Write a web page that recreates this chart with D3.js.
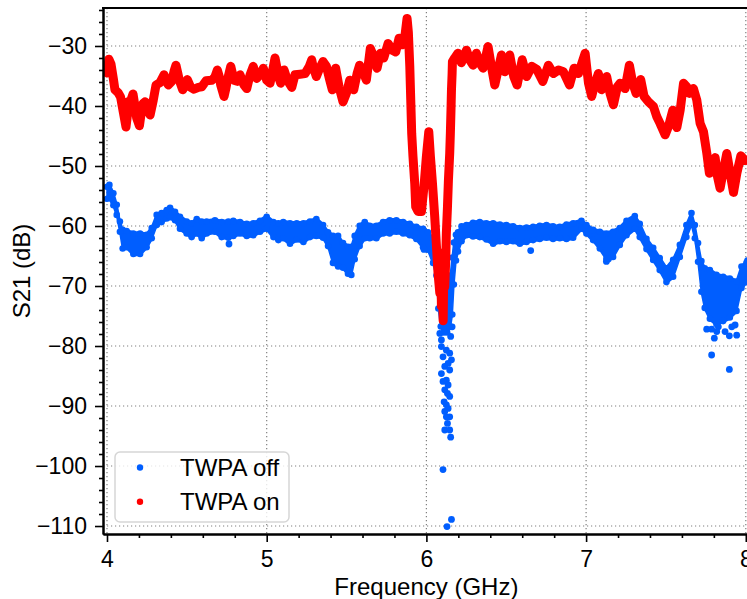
<!DOCTYPE html>
<html>
<head>
<meta charset="utf-8">
<script src="https://cdn.jsdelivr.net/npm/d3@7"></script>
<style>
  html, body { margin: 0; padding: 0; background: #fff; }
  svg { display: block; font-family: "Liberation Sans", Arial, sans-serif; }
</style>
</head>
<body>
<div id="chart"></div>
<script>
// S21 vs frequency, TWPA off / on.

// ---- TWPA on (red): centre of the trace, GHz / dB
const onFreq = [
  4.000, 4.012, 4.025, 4.040, 4.050, 4.070, 4.085, 4.102, 4.119, 4.128, 4.132, 4.140, 4.150, 4.163, 4.175, 4.186,
  4.203, 4.215, 4.225, 4.238, 4.255, 4.270, 4.290, 4.307, 4.332, 4.357, 4.370, 4.384, 4.405, 4.420, 4.432, 4.443,
  4.453, 4.474, 4.490, 4.503, 4.524, 4.545, 4.572, 4.593, 4.620, 4.656, 4.675, 4.691, 4.702, 4.712, 4.733, 4.745,
  4.754, 4.775, 4.795, 4.816, 4.833, 4.858, 4.875, 4.896, 4.916, 4.937, 4.958, 4.979, 5.000, 5.021, 5.042, 5.052,
  5.063, 5.073, 5.088, 5.109, 5.129, 5.157, 5.177, 5.209, 5.240, 5.267, 5.282, 5.290, 5.311, 5.332, 5.353, 5.374,
  5.395, 5.411, 5.432, 5.453, 5.478, 5.499, 5.520, 5.545, 5.566, 5.582, 5.603, 5.624, 5.649, 5.670, 5.691, 5.712,
  5.733, 5.760, 5.787, 5.808, 5.829, 5.850, 5.866, 5.879, 5.887, 5.896, 5.902, 5.908, 5.916, 5.927, 5.933, 5.948,
  5.969, 5.985, 6.000, 6.015, 6.025, 6.038, 6.052, 6.063, 6.073, 6.084, 6.090, 6.094, 6.100, 6.105, 6.110, 6.115,
  6.121, 6.125, 6.132, 6.138, 6.146, 6.150, 6.154, 6.157, 6.161, 6.163, 6.177, 6.198, 6.219, 6.251, 6.271, 6.292,
  6.313, 6.334, 6.355, 6.386, 6.407, 6.428, 6.449, 6.470, 6.491, 6.501, 6.522, 6.547, 6.568, 6.600, 6.628, 6.660,
  6.691, 6.729, 6.764, 6.795, 6.827, 6.858, 6.896, 6.925, 6.952, 6.973, 6.994, 7.015, 7.035, 7.056, 7.077, 7.098,
  7.129, 7.150, 7.171, 7.196, 7.213, 7.244, 7.271, 7.292, 7.313, 7.342, 7.363, 7.390, 7.422, 7.443, 7.463, 7.495,
  7.516, 7.543, 7.568, 7.589, 7.610, 7.630, 7.647, 7.672, 7.693, 7.714, 7.735, 7.756, 7.772, 7.793, 7.808, 7.823,
  7.839, 7.860, 7.881, 7.902, 7.923, 7.944, 7.969, 7.996, 8.010
];
const onS21 = [
  -34.5, -32.2, -33.0, -35.5, -37.3, -37.8, -38.5, -41.0, -43.5, -41.5, -39.3, -40.0, -39.0, -38.0, -40.0, -42.0,
  -43.3, -41.0, -39.6, -39.3, -40.8, -41.5, -39.0, -36.5, -36.1, -34.8, -35.8, -36.5, -35.9, -34.2, -33.2, -34.5,
  -35.7, -37.3, -36.5, -35.6, -36.9, -37.2, -36.9, -36.8, -35.8, -35.7, -35.2, -34.0, -35.0, -36.5, -38.4, -37.0,
  -35.7, -33.4, -35.7, -35.9, -34.8, -36.5, -37.1, -34.8, -33.4, -35.4, -34.8, -33.7, -35.7, -36.2, -33.4, -32.0,
  -33.5, -35.1, -36.2, -34.0, -35.7, -36.9, -34.8, -34.7, -34.6, -33.4, -32.3, -33.4, -35.1, -33.7, -32.6, -33.4,
  -35.7, -37.3, -33.7, -36.8, -39.3, -37.9, -35.7, -37.3, -34.6, -33.2, -34.3, -35.7, -30.4, -31.8, -33.7, -31.2,
  -32.0, -29.6, -30.7, -31.0, -28.7, -29.8, -28.2, -25.4, -27.7, -33.4, -39.0, -44.6, -48.4, -52.9, -56.8, -57.6,
  -57.6, -53.4, -48.4, -44.3, -48.4, -52.9, -58.4, -63.4, -67.9, -71.2, -64.5, -73.4, -66.0, -75.8, -65.0, -70.1,
  -65.7, -61.2, -56.8, -52.3, -47.9, -44.6, -40.7, -37.3, -34.6, -32.6, -32.0, -31.2, -32.8, -30.7, -32.3, -33.2,
  -31.2, -32.8, -33.7, -30.1, -33.4, -36.5, -34.0, -31.5, -34.3, -34.0, -31.5, -35.1, -36.5, -32.3, -35.1, -33.4,
  -33.9, -35.9, -33.2, -34.6, -34.0, -34.3, -36.5, -33.7, -34.6, -32.9, -31.2, -36.2, -38.4, -36.2, -34.6, -37.3,
  -35.1, -37.9, -39.8, -36.8, -36.2, -37.1, -33.2, -36.2, -37.9, -35.6, -38.4, -39.3, -40.1, -41.8, -42.9, -44.8,
  -43.4, -40.7, -43.6, -40.7, -36.2, -36.8, -37.9, -37.1, -39.0, -42.9, -44.3, -47.9, -51.2, -50.9, -48.6, -51.8,
  -53.7, -50.7, -47.9, -51.2, -54.4, -51.2, -48.3, -49.1, -49.0
];

// ---- TWPA off (blue): upper / lower edge of the noisy band, GHz / dB
const offFreq = [
  4.000, 4.015, 4.040, 4.061, 4.081, 4.098, 4.123, 4.165, 4.207, 4.248, 4.280, 4.311, 4.342, 4.374, 4.395, 4.426,
  4.457, 4.499, 4.530, 4.562, 4.593, 4.624, 4.676, 4.718, 4.760, 4.791, 4.833, 4.875, 4.916, 4.958, 5.000, 5.042,
  5.073, 5.104, 5.146, 5.188, 5.230, 5.271, 5.311, 5.353, 5.384, 5.415, 5.447, 5.478, 5.509, 5.530, 5.551, 5.582,
  5.614, 5.645, 5.687, 5.729, 5.770, 5.812, 5.854, 5.896, 5.937, 5.979, 6.010, 6.042, 6.063, 6.075, 6.090, 6.110,
  6.130, 6.150, 6.162, 6.172, 6.185, 6.198, 6.220, 6.251, 6.292, 6.334, 6.376, 6.418, 6.460, 6.501, 6.543, 6.585,
  6.627, 6.668, 6.710, 6.752, 6.793, 6.835, 6.877, 6.919, 6.971, 7.002, 7.044, 7.086, 7.127, 7.169, 7.211, 7.253,
  7.305, 7.336, 7.378, 7.420, 7.461, 7.503, 7.545, 7.587, 7.628, 7.660, 7.681, 7.701, 7.722, 7.743, 7.775, 7.816,
  7.858, 7.900, 7.942, 7.973, 8.004, 8.010
];
const offHi = [
  -53.2, -52.9, -54.3, -56.2, -59.0, -60.4, -60.6, -61.0, -61.0, -61.2, -60.1, -57.9, -57.6, -57.1, -56.7, -57.4,
  -58.2, -59.0, -59.3, -58.6, -59.0, -59.0, -58.8, -59.1, -59.0, -58.9, -59.1, -59.4, -59.3, -58.9, -58.2, -59.1,
  -59.3, -59.1, -59.3, -59.3, -59.3, -59.0, -58.6, -59.6, -60.8, -61.4, -61.4, -62.6, -63.2, -63.2, -61.4, -59.7,
  -59.1, -59.7, -59.7, -59.1, -58.8, -58.8, -59.1, -59.4, -59.9, -60.2, -60.8, -61.9, -64.0, -65.5, -67.0, -68.0,
  -70.0, -68.0, -65.0, -62.5, -61.2, -60.8, -59.8, -59.6, -59.2, -59.1, -59.3, -59.3, -59.5, -59.6, -59.8, -60.1,
  -60.0, -59.9, -59.7, -59.6, -59.8, -59.9, -59.5, -59.3, -58.9, -59.6, -60.4, -60.7, -61.0, -60.7, -60.1, -58.9,
  -58.1, -59.4, -61.9, -63.4, -65.1, -66.8, -65.4, -62.9, -59.6, -57.6, -59.6, -62.6, -65.6, -66.8, -67.1, -67.9,
  -68.2, -68.5, -69.0, -66.5, -65.9, -65.5
];
const offLo = [
  -55.7, -55.6, -56.8, -58.4, -61.2, -64.0, -63.8, -64.9, -64.9, -63.8, -62.3, -60.1, -59.6, -59.0, -58.8, -59.3,
  -60.7, -61.5, -62.1, -61.5, -62.3, -61.5, -61.2, -62.1, -62.2, -61.9, -61.5, -61.9, -61.8, -61.2, -60.7, -62.1,
  -62.6, -62.3, -63.2, -62.5, -62.9, -62.1, -61.9, -62.2, -63.6, -66.4, -67.0, -67.2, -68.2, -68.4, -65.8, -63.6,
  -62.3, -62.3, -62.3, -61.5, -61.5, -61.2, -61.5, -61.8, -62.4, -63.8, -64.2, -66.4, -68.5, -74.0, -77.0, -78.0,
  -78.0, -77.0, -75.0, -70.0, -66.0, -64.5, -62.8, -61.8, -62.0, -62.1, -62.5, -63.2, -62.8, -62.9, -62.8, -63.2,
  -62.9, -62.6, -62.4, -62.2, -62.4, -62.3, -62.4, -62.2, -60.7, -61.5, -62.6, -64.0, -65.7, -65.4, -63.4, -61.8,
  -60.7, -62.1, -64.1, -65.9, -67.6, -69.6, -68.7, -65.4, -62.1, -59.9, -62.3, -66.2, -71.2, -73.9, -75.7, -76.6,
  -76.1, -75.5, -74.4, -70.6, -69.6, -69.0
];

// ---- TWPA off (blue): single scattered points outside the band
const offDotFreq = [
  4.764, 5.985, 6.653, 7.127, 7.140,
  6.084, 6.094, 6.115, 6.146, 6.161, 6.152, 6.094, 6.125, 6.146, 6.104, 6.136, 6.115, 6.157, 6.094, 6.146,
  6.125, 6.104, 6.136, 6.115, 6.132, 6.146, 6.111, 6.125, 6.136, 6.115, 6.146, 6.125, 6.132, 6.115, 6.146,
  6.152, 6.104, 6.157, 6.129,
  7.755, 7.786, 7.803, 7.828, 7.786, 7.870, 7.897, 7.943, 7.897, 7.912, 7.933, 7.818
];
const offDotS21 = [
  -63.0, -63.9, -64.1, -65.9, -65.5,
  -77.9, -79.0, -77.6, -76.8, -76.8, -78.4, -80.1, -80.7, -81.2, -81.8, -82.9, -83.4, -82.3, -84.6, -84.0,
  -85.7, -85.9, -86.5, -87.3, -87.9, -88.4, -89.3, -89.8, -90.4, -90.9, -91.8, -91.8, -92.9, -94.0, -94.0,
  -95.2, -100.6, -108.9, -110.1,
  -77.2, -77.2, -78.7, -76.8, -81.5, -77.6, -78.3, -78.2, -83.9, -76.8, -76.5, -77.6
];

const xTicks = [4, 5, 6, 7, 8];
const yTicks = [-110, -100, -90, -80, -70, -60, -50, -40, -30];
const legendLabels = ['TWPA off', 'TWPA on'];

const BLUE = '#005eff', RED = '#ff0000';

const W = 747, H = 599;
const mL = 103, mR = 0, mT = 8, mB = 65;

const svg = d3.select('#chart').append('svg').attr('width', W).attr('height', H);
svg.append('rect').attr('width', W).attr('height', H).attr('fill', '#fff');

const x = d3.scaleLinear().domain([3.975, 8.0075]).range([mL, W - mR]);
const y = d3.scaleLinear().domain([-111.33, -23.67]).range([H - mB, mT]);

// grid
const grid = svg.append('g').attr('stroke', '#808080').attr('stroke-width', 1.2)
  .attr('stroke-dasharray', '1.2 2.8');
grid.selectAll('line.gx').data(xTicks).join('line')
  .attr('x1', d => x(d)).attr('x2', d => x(d)).attr('y1', mT).attr('y2', H - mB);
grid.selectAll('line.gy').data(yTicks).join('line')
  .attr('y1', d => y(d)).attr('y2', d => y(d)).attr('x1', mL).attr('x2', W);

const plot = svg.append('g');
svg.append('clipPath').attr('id', 'clip').append('rect')
  .attr('x', mL + 1).attr('y', mT + 1).attr('width', W - mL).attr('height', H - mB - mT - 1);
plot.attr('clip-path', 'url(#clip)');

// TWPA off band: filled between the edges, with dots along both edges for the speckled look
const band = offFreq.map((f, i) => ({ f, hi: offHi[i], lo: offLo[i] }));
plot.append('path').datum(band)
  .attr('fill', BLUE).attr('stroke', BLUE).attr('stroke-width', 1.5).attr('stroke-linejoin', 'round')
  .attr('d', d3.area().x(d => x(d.f)).y0(d => y(d.lo)).y1(d => y(d.hi)));
const edge = plot.append('g').attr('fill', BLUE);
edge.selectAll('circle.hi').data(band).join('circle').attr('class', 'hi')
  .attr('cx', d => x(d.f)).attr('cy', d => y(d.hi) + 1.5).attr('r', 3.3);
edge.selectAll('circle.lo').data(band).join('circle').attr('class', 'lo')
  .attr('cx', d => x(d.f)).attr('cy', d => y(d.lo) - 1.5).attr('r', 3.3);
plot.append('g').selectAll('circle').data(offDotFreq.map((f, i) => ({ f, v: offDotS21[i] }))).join('circle')
  .attr('cx', d => x(d.f)).attr('cy', d => y(d.v)).attr('r', 3.4).attr('fill', BLUE);

// TWPA on trace
const onPts = onFreq.map((f, i) => ({ f, v: onS21[i] }));
plot.append('path').datum(onPts)
  .attr('fill', 'none').attr('stroke', RED).attr('stroke-width', 9)
  .attr('stroke-linejoin', 'round').attr('stroke-linecap', 'round')
  .attr('d', d3.line().x(d => x(d.f)).y(d => y(d.v)));

// axes
function styleAxis(g) {
  g.select('.domain').attr('stroke', '#000').attr('stroke-width', 2);
  g.selectAll('.tick line').attr('stroke', '#000').attr('stroke-width', 1.6);
  g.selectAll('.tick text').attr('fill', '#000').attr('font-size', 23)
    .attr('font-family', '"Liberation Sans", Arial, sans-serif');
}
const yMinor = d3.range(-110, -23, 2).filter(v => v % 10 !== 0);
const xMinor = d3.range(4, 8.01, 0.2).map(v => +v.toFixed(1)).filter(v => v % 1 !== 0);

svg.append('g').attr('transform', `translate(${mL},0)`)
  .call(d3.axisLeft(y).tickValues(yMinor).tickSize(4).tickSizeOuter(0).tickFormat(''))
  .call(styleAxis);
svg.append('g').attr('transform', `translate(${mL},0)`)
  .call(d3.axisLeft(y).tickValues(yTicks).tickSize(8).tickSizeOuter(0).tickPadding(8))
  .call(styleAxis);
svg.append('g').attr('transform', `translate(0,${H - mB})`)
  .call(d3.axisBottom(x).tickValues(xMinor).tickSize(4).tickSizeOuter(0).tickFormat(''))
  .call(styleAxis);
svg.append('g').attr('transform', `translate(0,${H - mB})`)
  .call(d3.axisBottom(x).tickValues(xTicks).tickSize(8).tickSizeOuter(0).tickPadding(9)
    .tickFormat(d3.format('d')))
  .call(styleAxis);

// top spine
svg.append('line').attr('x1', mL - 1).attr('x2', W).attr('y1', mT).attr('y2', mT)
  .attr('stroke', '#000').attr('stroke-width', 2);

// axis titles
svg.append('text').attr('x', x(6)).attr('y', 595).attr('text-anchor', 'middle')
  .attr('font-size', 24).text('Frequency (GHz)');
svg.append('text').attr('transform', `translate(30,${y(-67.5)}) rotate(-90)`).attr('text-anchor', 'middle')
  .attr('font-size', 24).text('S21 (dB)');

// legend
const lg = svg.append('g').attr('transform', 'translate(115,452)');
lg.append('rect').attr('width', 174).attr('height', 70).attr('rx', 5)
  .attr('fill', '#fff').attr('fill-opacity', 0.8).attr('stroke', '#d6d6d6').attr('stroke-width', 1.5);
const items = lg.selectAll('g.item').data(legendLabels).join('g')
  .attr('transform', (d, i) => `translate(0,${15.5 + i * 34.3})`);
items.append('circle').attr('cx', 25).attr('r', 3.2).attr('fill', (d, i) => i === 0 ? BLUE : RED);
items.append('text').attr('x', 65).attr('y', 8).attr('font-size', 24).text(d => d);
</script>
</body>
</html>
